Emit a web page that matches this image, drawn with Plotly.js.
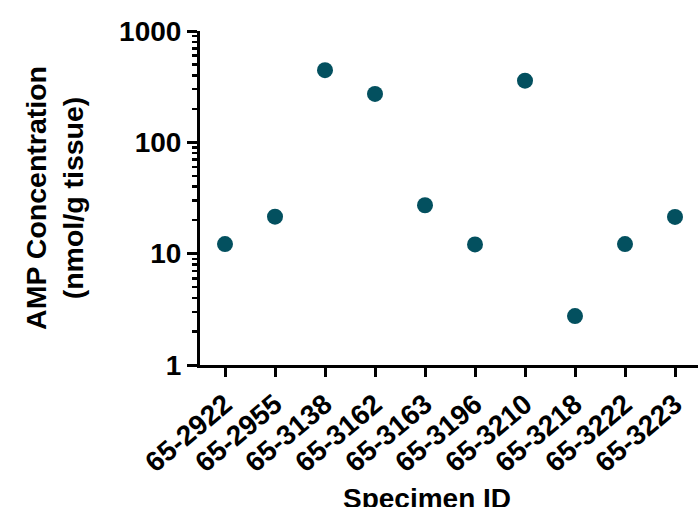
<!DOCTYPE html>
<html>
<head>
<meta charset="utf-8">
<script src="https://cdn.plot.ly/plotly-3.0.1.min.js"></script>
<style>html,body{margin:0;padding:0;background:#fff;}#chart{width:698px;height:507px;}</style>
</head>
<body>
<div id="chart"></div>
<script>
const specimens = ["65-2922","65-2955","65-3138","65-3162","65-3163","65-3196","65-3210","65-3218","65-3222","65-3223"];
const ampConcentration = [12.2, 21.5, 445, 272, 27.2, 12.1, 358, 2.75, 12.2, 21.4];
const yTickVals = [1, 10, 100, 1000];
const yTickText = ["1", "10", "100", "1000"];
const yMinorVals = [2,3,4,5,6,7,8,9,20,30,40,50,60,70,80,90,200,300,400,500,600,700,800,900];

const FONT = "Liberation Sans, Arial, sans-serif";

const trace = {
  type: "scatter",
  mode: "markers",
  x: specimens,
  y: ampConcentration,
  marker: {color: "#03505f", size: 16},
  cliponaxis: false
};

const layout = {
  width: 698, height: 507,
  margin: {l: 200, r: 0, t: 31, b: 142, pad: 0},
  paper_bgcolor: "#fff", plot_bgcolor: "#fff",
  showlegend: false,
  font: {family: FONT, color: "#000"},
  xaxis: {
    type: "category",
    range: [-0.5, 9.46],
    showline: true, linecolor: "#000", linewidth: 3,
    ticks: "outside", ticklen: 9, tickwidth: 3, tickcolor: "#000",
    tickangle: -40,
    tickfont: {family: FONT, size: 28, color: "#000", weight: "bold"},
    showgrid: false, zeroline: false
  },
  yaxis: {
    type: "log",
    range: [0, 3],
    showline: true, linecolor: "#000", linewidth: 3,
    ticks: "outside", ticklen: 10, tickwidth: 3, tickcolor: "#000",
    tickmode: "array", tickvals: yTickVals, ticktext: yTickText,
    tickfont: {family: FONT, size: 28, color: "#000", weight: "bold"},
    minor: {tickmode: "array", tickvals: yMinorVals, ticks: "outside", ticklen: 5, tickwidth: 2.5, tickcolor: "#000", showgrid: false},
    showgrid: false, zeroline: false,
    title: {text: "AMP Concentration<br>(nmol/g tissue)", font: {family: FONT, size: 28.5, color: "#000", weight: "bold"}, standoff: 28}
  },
  annotations: [{
    text: "Specimen ID", xref: "paper", yref: "paper",
    x: 0.456, y: -0.348, xanchor: "center", yanchor: "top", showarrow: false,
    font: {family: FONT, size: 28, color: "#000", weight: "bold"}
  }]
};

Plotly.newPlot("chart", [trace], layout, {displayModeBar: false, staticPlot: true});
</script>
</body>
</html>
